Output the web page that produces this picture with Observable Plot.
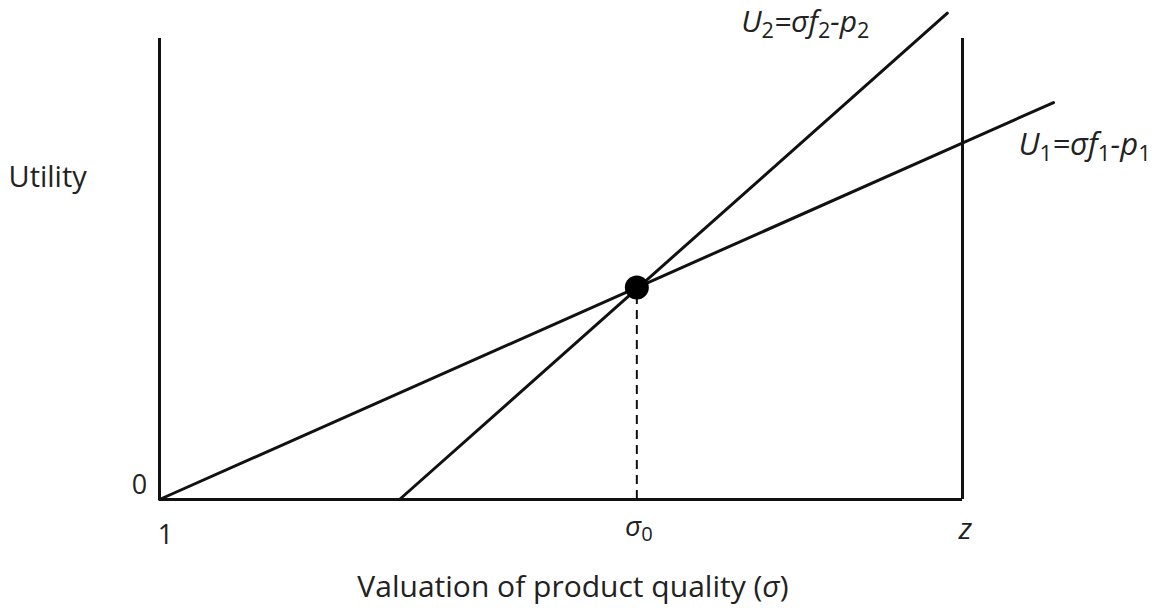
<!DOCTYPE html>
<html>
<head>
<meta charset="utf-8">
<script src="https://cdn.jsdelivr.net/npm/d3@7"></script>
<script src="https://cdn.jsdelivr.net/npm/@observablehq/plot@0.6"></script>
<style>
  html, body { margin: 0; padding: 0; background: #ffffff; }
  #chart svg { display: block; }
</style>
</head>
<body>
<div id="chart"></div>
<script>
// ---- data (diagram units) ----
const sigmaStart = 1;          // left edge of the σ range
const sigmaZ = 10;             // right edge "z"
const sigma0 = 6.35;           // crossing point σ0
const utilityZero = 0;
const utilityTop = 10;         // height of the vertical boundary lines
const utilityAtSigma0 = 4.6;   // utility at crossing

const u1Sigma = [1, 11.02];
const u1Utility = [0, 8.61];
const u2Sigma = [3.69, 9.83];
const u2Utility = [0, 10.55];

const u1Label = "U₁=σf₁-p₁";
const u2Label = "U₂=σf₂-p₂";
const xTickLabels = ["1", "σ₀", "z"];
const yTickLabel = "0";
const xTitle = "Valuation of product quality (σ)";
const yTitle = "Utility";

// ---- tables built from the arrays ----
const u1 = u1Sigma.map((s, i) => ({sigma: s, utility: u1Utility[i]}));
const u2 = u2Sigma.map((s, i) => ({sigma: s, utility: u2Utility[i]}));
const crossing = [{sigma: sigma0, utility: utilityAtSigma0}];

const FONT = "'Open Sans', sans-serif";

const chart = Plot.plot({
  width: 1152,
  height: 613,
  marginLeft: 159,
  marginRight: 190,
  marginTop: 38,
  marginBottom: 114,
  x: {domain: [sigmaStart, sigmaZ], axis: null},
  y: {domain: [utilityZero, utilityTop], axis: null},
  style: {background: "#ffffff", fontFamily: FONT, color: "#000"},
  marks: [
    // boundary box
    Plot.ruleX([sigmaStart, sigmaZ], {y1: utilityZero, y2: utilityTop, stroke: "#111", strokeWidth: 3}),
    Plot.ruleY([utilityZero], {x1: sigmaStart, x2: sigmaZ, stroke: "#111", strokeWidth: 3}),
    // dashed drop line
    Plot.ruleX(crossing, {x: "sigma", y1: utilityZero, y2: "utility", stroke: "#111", strokeWidth: 2, strokeDasharray: "9,6"}),
    // utility lines
    Plot.line(u1, {x: "sigma", y: "utility", stroke: "#111", strokeWidth: 3}),
    Plot.line(u2, {x: "sigma", y: "utility", stroke: "#111", strokeWidth: 3}),
    // crossing dot
    Plot.dot(crossing, {x: "sigma", y: "utility", r: 12, fill: "#000", stroke: "none"}),
    // equation labels
    Plot.text([u2[1]], {x: "sigma", y: "utility", text: () => u2Label, textAnchor: "end", lineAnchor: "bottom",
      dx: -78, dy: 19, fontSize: 30, fontStyle: "italic", fill: "#222", fontFamily: FONT}),
    Plot.text([u1[1]], {x: "sigma", y: "utility", text: () => u1Label, textAnchor: "start", lineAnchor: "bottom",
      dx: -35, dy: 52, fontSize: 31, fontStyle: "italic", fill: "#222", fontFamily: FONT}),
    // x tick labels
    Plot.text([sigmaStart], {x: d => d, frameAnchor: "bottom", text: () => xTickLabels[0], lineAnchor: "bottom",
      dx: 6, dy: 44, fontSize: 27, fill: "#222", fontFamily: FONT}),
    Plot.text([sigma0], {x: d => d, frameAnchor: "bottom", text: () => xTickLabels[1], lineAnchor: "bottom",
      dx: 2, dy: 36, fontSize: 28, fill: "#222", fontFamily: FONT}),
    Plot.text([sigmaZ], {x: d => d, frameAnchor: "bottom", text: () => xTickLabels[2], lineAnchor: "bottom",
      dx: 3, dy: 39, fontSize: 30, fontStyle: "italic", fill: "#222", fontFamily: FONT}),
    // y tick label
    Plot.text([utilityZero], {x: () => sigmaStart, y: d => d, text: () => yTickLabel, textAnchor: "middle", lineAnchor: "bottom",
      dx: -20, dy: -6, fontSize: 27, fill: "#222", fontFamily: FONT}),
    // axis titles
    Plot.text([xTitle], {frameAnchor: "bottom", text: d => d, lineAnchor: "bottom", dx: 12, dy: 97,
      fontSize: 30, fill: "#222", fontFamily: FONT}),
    Plot.text([yTitle], {frameAnchor: "top-left", text: d => d, textAnchor: "start", lineAnchor: "bottom", dx: -151, dy: 148,
      fontSize: 29, fill: "#222", fontFamily: FONT})
  ]
});

// rich text: italic σ, and Unicode subscripts as shifted smaller digits
const subMap = {"₀":"0","₁":"1","₂":"2","₃":"3","₄":"4","₅":"5","₆":"6","₇":"7","₈":"8","₉":"9"};
chart.querySelectorAll("text").forEach(t => {
  const s = t.textContent;
  if (!/[₀-₉σ]/.test(s)) return;
  const fs = parseFloat(t.getAttribute("font-size") || t.parentNode.getAttribute("font-size") || 16);
  const subSize = fs * 0.72;
  const shift = fs * 0.2;
  const ns = "http://www.w3.org/2000/svg";
  while (t.firstChild) t.removeChild(t.firstChild);
  let shifted = false;
  for (const ch of s) {
    const sp = document.createElementNS(ns, "tspan");
    if (subMap[ch]) {
      sp.textContent = subMap[ch];
      sp.setAttribute("font-size", subSize);
      sp.setAttribute("font-style", "normal");
      if (!shifted) { sp.setAttribute("dy", shift); shifted = true; }
    } else {
      sp.textContent = ch;
      if (ch === "σ") sp.setAttribute("font-style", "italic");
      if (shifted) { sp.setAttribute("dy", -shift); shifted = false; }
    }
    t.appendChild(sp);
  }
});

document.getElementById("chart").appendChild(chart);
</script>
</body>
</html>
